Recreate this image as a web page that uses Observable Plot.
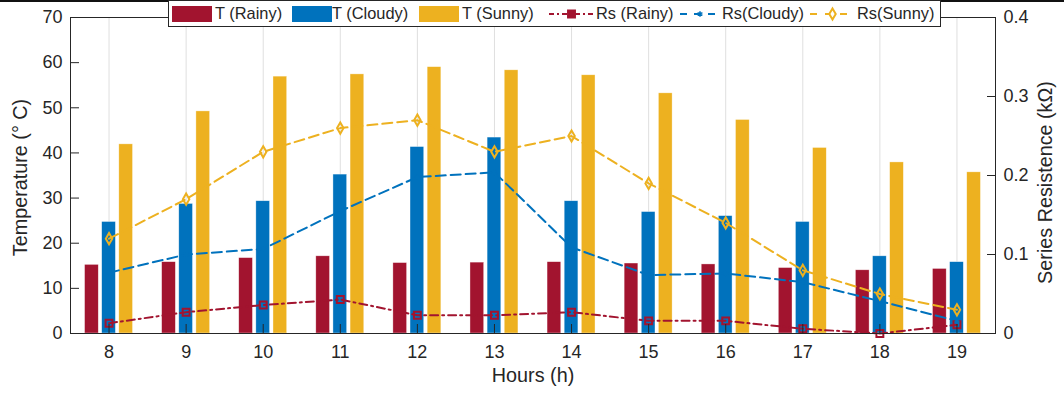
<!DOCTYPE html>
<html>
<head>
<meta charset="utf-8">
<script src="https://cdn.jsdelivr.net/npm/d3@7"></script>
<script src="https://cdn.jsdelivr.net/npm/@observablehq/plot@0.6"></script>
<style>
  html, body { margin: 0; padding: 0; background: white; }
  #wrap { position: relative; width: 1064px; height: 394px; overflow: hidden; font-family: "Liberation Sans", Arial, sans-serif; }
  #topband { position: absolute; left: 0; top: 0; width: 1064px; height: 2px; background: #111; }
  #legend { position: absolute; left: 168px; top: 0px; width: 771px; height: 25px; background: white; border: 1px solid #262626; box-sizing: content-box; }
  .li { position: absolute; top: 0; height: 25px; display: flex; align-items: center; font-size: 16.4px; color: #262626; white-space: nowrap; }
  .sw { position: absolute; top: 5px; width: 40px; height: 16px; }
  .ls { position: absolute; top: 0; }
</style>
</head>
<body>
<div id="wrap">
  <div id="chart"></div>
  <div id="topband"></div>
  <div id="legend"></div>
</div>
<script>
// ---- data ----
const hours    = [8, 9, 10, 11, 12, 13, 14, 15, 16, 17, 18, 19];
const tRainy   = [15.2, 15.8, 16.7, 17.1, 15.6, 15.7, 15.8, 15.5, 15.3, 14.5, 14.0, 14.3];
const tCloudy  = [24.7, 28.7, 29.3, 35.2, 41.3, 43.4, 29.3, 26.9, 26.0, 24.7, 17.1, 15.8];
const tSunny   = [41.9, 49.2, 56.9, 57.4, 59.0, 58.3, 57.2, 53.2, 47.3, 41.1, 37.9, 35.7];
const rsRainy  = [0.013, 0.027, 0.036, 0.043, 0.023, 0.023, 0.027, 0.016, 0.016, 0.006, 0.000, 0.011];
const rsCloudy = [0.077, 0.100, 0.107, 0.155, 0.198, 0.204, 0.109, 0.074, 0.076, 0.065, 0.041, 0.016];
const rsSunny  = [0.12, 0.17, 0.23, 0.26, 0.27, 0.23, 0.25, 0.19, 0.14, 0.08, 0.05, 0.03];
const tTicks   = [0, 10, 20, 30, 40, 50, 60, 70];
const rsTicks  = [0, 0.1, 0.2, 0.3, 0.4];
const rsTickLabels = ["0", "0.1", "0.2", "0.3", "0.4"];

const RAINY = "#A2142F", CLOUDY = "#0072BD", SUNNY = "#EDB120", AX = "#262626";

// right axis (Rs) mapped onto the temperature scale
const rsToT = d3.scaleLinear().domain([0, 0.4]).range([0, 70]);

const rows = hours.map((h, i) => ({
  hour: h, tRainy: tRainy[i], tCloudy: tCloudy[i], tSunny: tSunny[i],
  rsRainy: rsRainy[i], rsCloudy: rsCloudy[i], rsSunny: rsSunny[i]
}));

// grouped bar layout (MATLAB-style grouping, in x units)
const OFF = 0.2222, HW = 0.0889;
const barOpts = (key, off, color) => ({
  x1: d => d.hour + off - HW, x2: d => d.hour + off + HW,
  y1: 0, y2: key, fill: color, stroke: "white", strokeWidth: 0.6, strokeOpacity: 0.6
});

const chart = Plot.plot({
  width: 1064, height: 394,
  marginLeft: 70, marginRight: 69, marginTop: 17, marginBottom: 61,
  x: { domain: [7.5, 19.5] },
  y: { domain: [0, 70] },
  style: { fontFamily: "'Liberation Sans', Arial, sans-serif", fontSize: "18px", color: AX, background: "white" },
  marks: [
    Plot.gridX(hours, { stroke: "#000", strokeOpacity: 0.13 }),
    Plot.rect(rows, barOpts("tRainy", -OFF, RAINY)),
    Plot.rect(rows, barOpts("tCloudy", 0, CLOUDY)),
    Plot.rect(rows, barOpts("tSunny", OFF, SUNNY)),
    Plot.line(rows, { x: "hour", y: d => rsToT(d.rsRainy), stroke: RAINY, strokeWidth: 2, strokeDasharray: "8,4,2,4" }),
    Plot.line(rows, { x: "hour", y: d => rsToT(d.rsCloudy), stroke: CLOUDY, strokeWidth: 2, strokeDasharray: "10,5" }),
    Plot.line(rows, { x: "hour", y: d => rsToT(d.rsSunny), stroke: SUNNY, strokeWidth: 2, strokeDasharray: "10,5" }),
    Plot.dot(rows, { x: "hour", y: d => rsToT(d.rsRainy), symbol: "square", r: 3.9, fill: "none", stroke: RAINY, strokeWidth: 2 }),
    Plot.dot(rows, { x: "hour", y: d => rsToT(d.rsCloudy), symbol: "asterisk", r: 2.6, fill: "none", stroke: CLOUDY, strokeWidth: 1.5 }),
    Plot.dot(rows, { x: "hour", y: d => rsToT(d.rsSunny), symbol: "diamond", r: 3.4, fill: "none", stroke: SUNNY, strokeWidth: 2 }),
    Plot.frame({ stroke: AX, strokeWidth: 1 }),
    // inward tick marks
    Plot.axisX({ ticks: hours, tickSize: -9, tickFormat: () => "", label: null, stroke: AX }),
    Plot.axisY({ ticks: tTicks, tickSize: -9, tickFormat: () => "", label: null, stroke: AX }),
    Plot.axisY({ anchor: "right", ticks: rsTicks.map(v => rsToT(v)), tickSize: -9, tickFormat: () => "", label: null, stroke: AX }),
    // tick labels
    Plot.axisX({ ticks: hours, tickSize: 0, tickPadding: 12, tickFormat: d => String(d), label: null, fill: AX }),
    Plot.axisY({ ticks: tTicks, tickSize: 0, tickPadding: 8, tickFormat: d => String(d), label: null, fill: AX }),
    Plot.axisY({ anchor: "right", ticks: rsTicks.map(v => rsToT(v)), tickSize: 0, tickPadding: 8,
                 tickFormat: d => rsTickLabels[rsTicks.findIndex(v => Math.abs(rsToT(v) - d) < 1e-6)], label: null, fill: AX }),
    // axis titles
    Plot.text(["Temperature (° C)"], { frameAnchor: "left", textAnchor: "middle", rotate: -90, dx: -50, dy: 2, fontSize: 19.8, fill: AX }),
    Plot.text(["Series Resistence (kΩ)"], { frameAnchor: "right", textAnchor: "middle", rotate: -90, dx: 50, dy: 7, fontSize: 19.8, fill: AX }),
    Plot.text(["Hours (h)"], { frameAnchor: "bottom", dy: 48, fontSize: 19.8, fill: AX })
  ]
});
document.getElementById("chart").appendChild(chart);

// ---- legend ----
const legend = document.getElementById("legend");
const L0 = 169;
const barItems = [
  { label: "T (Rainy)", color: RAINY, sw: 172, tx: 215 },
  { label: "T (Cloudy)", color: CLOUDY, sw: 292, tx: 332 },
  { label: "T (Sunny)", color: SUNNY, sw: 419, tx: 462 }
];
barItems.forEach(it => {
  const s = document.createElement("div");
  s.className = "sw"; s.style.left = (it.sw - L0) + "px"; s.style.background = it.color;
  legend.appendChild(s);
  const t = document.createElement("div");
  t.className = "li"; t.style.left = (it.tx - L0) + "px"; t.textContent = it.label;
  legend.appendChild(t);
});
const lineItems = [
  { label: "Rs (Rainy)", color: RAINY, x0: 549, x1: 594, tx: 596, dash: "5,3,2,3", sym: "square" },
  { label: "Rs(Cloudy)", color: CLOUDY, x0: 680, x1: 720, tx: 722, dash: "7,7", sym: "asterisk" },
  { label: "Rs(Sunny)", color: SUNNY, x0: 810, x1: 855, tx: 857, dash: "7,8", sym: "diamond" }
];
const NS = "http://www.w3.org/2000/svg";
lineItems.forEach(it => {
  const w = it.x1 - it.x0;
  const svg = document.createElementNS(NS, "svg");
  svg.setAttribute("width", w); svg.setAttribute("height", 25);
  svg.setAttribute("class", "ls"); svg.style.left = (it.x0 - L0) + "px";
  const ln = document.createElementNS(NS, "line");
  ln.setAttribute("x1", 0); ln.setAttribute("x2", w); ln.setAttribute("y1", 13); ln.setAttribute("y2", 13);
  ln.setAttribute("stroke", it.color); ln.setAttribute("stroke-width", 2); ln.setAttribute("stroke-dasharray", it.dash);
  svg.appendChild(ln);
  const sym = { square: d3.symbolSquare, asterisk: d3.symbolAsterisk, diamond: d3.symbolDiamond }[it.sym];
  const size = { square: 3.9 * 3.9 * Math.PI, asterisk: 2.6 * 2.6 * Math.PI, diamond: 3.4 * 3.4 * Math.PI }[it.sym];
  const p = document.createElementNS(NS, "path");
  p.setAttribute("d", d3.symbol(sym, size)());
  p.setAttribute("transform", `translate(${w / 2},13)`);
  p.setAttribute("fill", it.sym === "square" ? RAINY : "white");
  p.setAttribute("stroke", it.color); p.setAttribute("stroke-width", it.sym === "asterisk" ? 1.5 : 2);
  svg.appendChild(p);
  legend.appendChild(svg);
  const t = document.createElement("div");
  t.className = "li"; t.style.left = (it.tx - L0) + "px"; t.textContent = it.label;
  legend.appendChild(t);
});
</script>
</body>
</html>
